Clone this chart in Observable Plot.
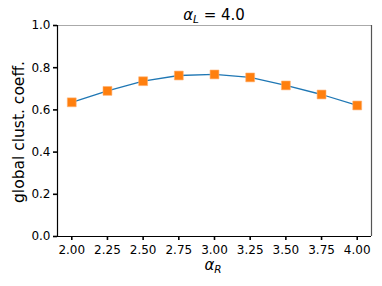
<!DOCTYPE html>
<html><head><meta charset="utf-8">
<script src="https://cdn.jsdelivr.net/npm/d3@7"></script>
<script src="https://cdn.jsdelivr.net/npm/@observablehq/plot@0.6"></script>
<style>body{margin:0;background:#fff;} svg{display:block;}</style>
</head><body><div id="chart"></div>
<script>
const alphaR = [2.00, 2.25, 2.50, 2.75, 3.00, 3.25, 3.50, 3.75, 4.00];
const clustCoeff = [0.636, 0.690, 0.736, 0.763, 0.768, 0.754, 0.716, 0.673, 0.621];
const xTicks = [2.00, 2.25, 2.50, 2.75, 3.00, 3.25, 3.50, 3.75, 4.00];
const yTicks = [0.0, 0.2, 0.4, 0.6, 0.8, 1.0];

const data = alphaR.map((x, i) => ({x, y: clustCoeff[i]}));
const font = "DejaVu Sans, sans-serif";

const plot = Plot.plot({
  width: 382, height: 286,
  marginLeft: 57, marginRight: 11, marginTop: 25, marginBottom: 50,
  style: {fontFamily: font, fontSize: "12px", color: "#000", background: "#fff"},
  x: {domain: [1.9, 4.1], ticks: xTicks, tickFormat: d3.format(".2f"), tickSize: 4, tickPadding: 4.5, label: null},
  y: {domain: [0, 1], ticks: yTicks, tickFormat: d3.format(".1f"), tickSize: 4, tickPadding: 3, label: null},
  marks: [
    Plot.ruleY([1], {stroke: "#aaa", strokeWidth: 1.2}),
    Plot.ruleX([4.1], {stroke: "#555", strokeWidth: 1.2}),
    Plot.ruleY([0], {stroke: "#000", strokeWidth: 1.2}),
    Plot.ruleX([1.9], {stroke: "#000", strokeWidth: 1.2}),
    Plot.line(data, {x: "x", y: "y", stroke: "#1f77b4", strokeWidth: 1.3}),
    Plot.dot(data, {x: "x", y: "y", symbol: "square", r: 5, fill: "#ff7f0e", stroke: "#ffb070", strokeWidth: 0.6})
  ]
});
document.getElementById("chart").appendChild(plot);

const svg = d3.select(plot);
svg.selectAll("g[aria-label='x-axis tick'] path, g[aria-label='y-axis tick'] path").attr("stroke-width", 1.6);
svg.selectAll("g[aria-label='x-axis tick label'] text, g[aria-label='y-axis tick label'] text").attr("fill", "#000");

// title
const t = svg.append("text").attr("x", 214).attr("y", 20).attr("text-anchor", "middle")
  .attr("font-family", font).attr("font-size", 15).attr("fill", "#000");
t.append("tspan").attr("font-style", "italic").text("α");
t.append("tspan").attr("font-style", "italic").attr("font-size", 10.5).attr("dy", 3).text("L");
t.append("tspan").attr("dy", -3).text(" = 4.0");

// x label
const xl = svg.append("text").attr("x", 213).attr("y", 270).attr("text-anchor", "middle")
  .attr("font-family", font).attr("font-size", 15).attr("fill", "#000");
xl.append("tspan").attr("font-style", "italic").text("α");
xl.append("tspan").attr("font-style", "italic").attr("font-size", 10.5).attr("dy", 3).text("R");

// y label
svg.append("text").attr("transform", "translate(24,132) rotate(-90)").attr("text-anchor", "middle")
  .attr("font-family", font).attr("font-size", 15.5).attr("fill", "#000").text("global clust. coeff.");
</script></body></html>
